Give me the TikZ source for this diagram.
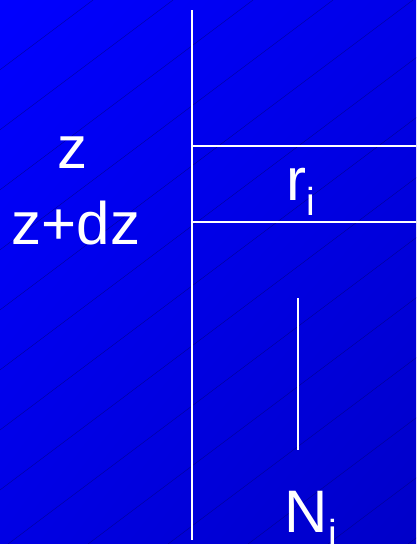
\documentclass[tikz,border=0pt]{standalone}
\usepackage{fontspec}
\setmainfont{Liberation Sans}
\usetikzlibrary{positioning,shadings}
\definecolor{slideTL}{RGB}{0,0,255}
\definecolor{slideTR}{RGB}{0,0,232}
\definecolor{slideBL}{RGB}{0,0,228}
\definecolor{slideBR}{RGB}{0,0,200}
\definecolor{slidehatch}{RGB}{0,0,120}

\begin{document}
\begin{tikzpicture}[x=1pt,y=-1pt]
    \tikzset{wire/.style={white, line width=1.5pt},
             biglabel/.style={text=white, inner sep=0pt, font=\fontsize{60}{60}\selectfont},
             hatch/.style={slidehatch, line width=0.4pt, opacity=0.7}}
    \newcommand{\subidx}[1]{\raisebox{-15pt}{\fontsize{39}{39}\selectfont #1}}
    % Background
    \shade[upper left=slideTL, upper right=slideTR, lower left=slideBL, lower right=slideBR]
        (0,0) rectangle (416,544);
    \begin{scope}
        \clip (0,0) rectangle (416,544);
        \foreach \k in {0,...,13}
            \draw[hatch] ({93+80*\k},0) -- ({93+80*\k-725},544);
    \end{scope}
    \useasboundingbox (0,0) rectangle (416,544);
    % Lines
    \coordinate (axtop) at (192,10);
    \coordinate (axbot) at (192,540);
    \coordinate (ztop) at (192,146);
    \coordinate (zbot) at (192,222);
    \coordinate (ztopR) at (416,146);
    \coordinate (zbotR) at (416,222);
    \coordinate (nup) at (298,298);
    \coordinate (ndown) at (298,450);
    \draw[wire] (axtop) -- (axbot);
    \draw[wire] (ztop) -- (ztopR);
    \draw[wire] (zbot) -- (zbotR);
    \draw[wire] (nup) -- (ndown);
    % Labels
    \node[biglabel, anchor=base] (zlabel) at (72,168) {z};
    \node[biglabel, anchor=base] (dzlabel) at (76,244) {z+dz};
    \node[biglabel, anchor=base west] (rlabel) at (286,200) {r\subidx{i}};
    \node[biglabel, anchor=base west] (nlabel) at (284.5,532) {N\subidx{i}};
\end{tikzpicture}
\end{document}
